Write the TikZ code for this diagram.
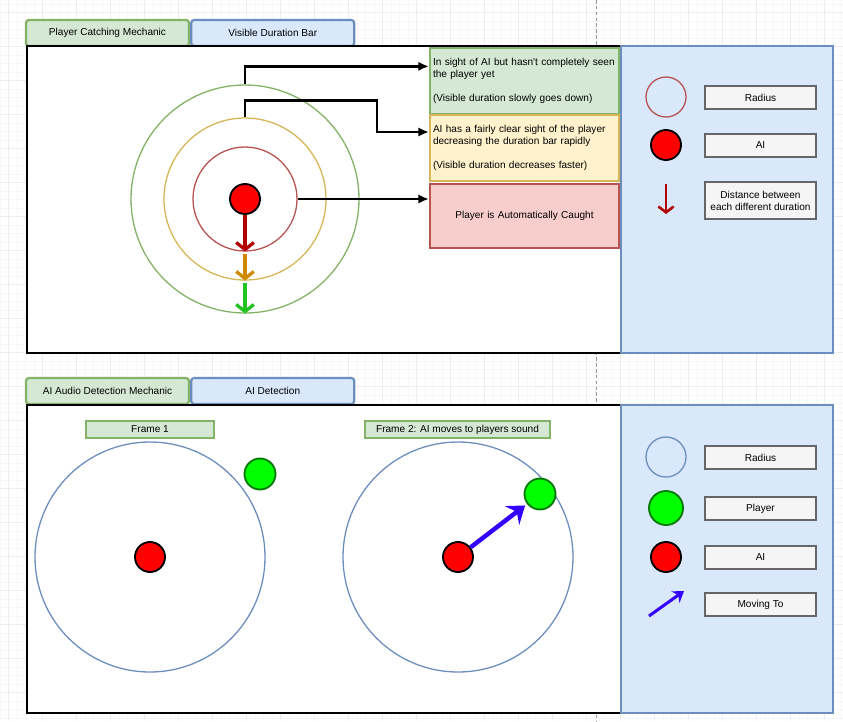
\documentclass[tikz,border=0pt]{standalone}
\usepackage{fontspec}
\setmainfont{Liberation Sans}
\usepackage{xcolor}
\usepackage{tikz}
\usetikzlibrary{arrows.meta,calc,positioning}

\definecolor{grnfill}{HTML}{D5E8D4}
\definecolor{grnline}{HTML}{82B366}
\definecolor{blufill}{HTML}{DAE8FC}
\definecolor{bluline}{HTML}{6C8EBF}
\definecolor{ylwfill}{HTML}{FFF2CC}
\definecolor{ylwline}{HTML}{D6B656}
\definecolor{redfill}{HTML}{F8CECC}
\definecolor{redline}{HTML}{B85450}
\definecolor{keyfill}{HTML}{F5F5F5}
\definecolor{keyline}{HTML}{666666}
\definecolor{aired}{HTML}{FF0000}
\definecolor{plgreen}{HTML}{00FF00}
\definecolor{pldark}{HTML}{007A00}
\definecolor{movblue}{HTML}{3300FF}
\definecolor{darkred}{HTML}{B20000}
\definecolor{orng}{HTML}{D08A00}
\definecolor{arrgreen}{HTML}{22C422}

\begin{document}
\begin{tikzpicture}[x=0.03cm, y=-0.03cm,
		font=\fontsize{8.6}{10.2}\selectfont,
		tab/.style={draw, rounded corners=2.5pt, line width=1.9pt, minimum width=163*0.03cm, minimum height=26*0.03cm, inner sep=0pt},
		greentab/.style={tab, draw=grnline, fill=grnfill},
		bluetab/.style={tab, draw=bluline, fill=blufill},
		stage/.style={draw, line width=1.9pt, text width=183*0.03cm, inner xsep=3*0.03cm, inner ysep=0pt, minimum height=66*0.03cm, align=left},
		ring/.style={circle, draw, line width=1.1pt, inner sep=0pt},
		aidot/.style={circle, draw=black, fill=aired, line width=1.6pt, minimum size=30*0.03cm, inner sep=0pt},
		playerdot/.style={circle, draw=pldark, fill=plgreen, line width=1.6pt, minimum size=31*0.03cm, inner sep=0pt},
		keybox/.style={draw=keyline, fill=keyfill, line width=2.2pt, minimum width=111*0.03cm, minimum height=23*0.03cm, inner sep=1pt, align=center},
		framebox/.style={draw=grnline, fill=grnfill, line width=1.1pt, minimum height=17*0.03cm, inner sep=0pt},
		conn/.style={line width=2pt, -{Latex[length=9pt, width=8pt]}},
		dist/.style={line width=2.8pt, -{Straight Barb[length=6pt, width=15pt]}},
		move/.style={movblue, line width=3.8pt, -{Stealth[length=14pt, width=20pt, inset=5pt]}},
		panel/.style={draw=bluline, fill=blufill, line width=2pt},
		sectionbox/.style={draw=black, fill=white, line width=2pt}
	]

	\def\W{843} \def\H{721}
	\useasboundingbox (0,0) rectangle (\W,\H);
	\fill[white] (0,0) rectangle (\W,\H);

	% background grid
	\foreach \gx in {0,8.5,...,843}
		\draw[black!3, line width=0.4pt] (\gx,0) -- (\gx,\H);
	\foreach \gy in {3.8,12.3,...,721}
		\draw[black!3, line width=0.4pt] (0,\gy) -- (\W,\gy);
	\foreach \gx in {8.3,42.3,...,843}
		\draw[black!7, line width=0.4pt] (\gx,0) -- (\gx,\H);
	\foreach \gy in {12.3,46.3,...,721}
		\draw[black!7, line width=0.4pt] (0,\gy) -- (\W,\gy);

	% page break
	\draw[black!40, line width=0.6pt, dash pattern=on 3pt off 2pt] (596.5,0) -- (596.5,\H);

	% ---------- Player catching mechanic ----------
	\node[greentab] (tabCatch) at (107.5,33) {Player Catching Mechanic};
	\node[bluetab, right=0pt of tabCatch] (tabBar) {Visible Duration Bar};

	\draw[sectionbox] (27,46) rectangle (621,353);
	\draw[panel] (621,46) rectangle (833,353);

	% sight rings round the AI
	\node[ring, draw=grnline, minimum size=228*0.03cm] (ringG) at (245,199) {};
	\node[ring, draw=ylwline, minimum size=162*0.03cm] (ringY) at (245,199) {};
	\node[ring, draw=redline, minimum size=104*0.03cm] (ringR) at (245,199) {};
	\node[aidot] (aiTop) at (245,199) {};

	\draw[dist, darkred] (aiTop.south) -- (ringR.south);
	\draw[dist, orng] ([yshift=-2pt]ringR.south) -- (ringY.south);
	\draw[dist, arrgreen] ([yshift=-2pt]ringY.south) -- (ringG.south);

	% duration stages
	\node[stage, draw=grnline, fill=grnfill] (stSeen) at (524.5,81)
		{In sight of AI but hasn\textquotesingle t completely seen\\the player yet\\[10.2pt](Visible duration slowly goes down)};
	\node[stage, draw=ylwline, fill=ylwfill] (stClear) at (524.5,148)
		{AI has a fairly clear sight of the player\\decreasing the duration bar rapidly\\[10.2pt](Visible duration decreases faster)};
	\node[stage, draw=redline, fill=redfill, align=center, minimum height=64*0.03cm] (stCaught) at (524.5,216)
		{Player is Automatically Caught};

	\draw[conn] (ringG.north) -- ++(0,-18) coordinate (bendA) -- (bendA -| stSeen.west);
	\draw[conn] (ringY.north) -- ++(0,-17) -| ($(stClear.west)+(-52,-16)$) -- ($(stClear.west)+(0,-16)$);
	\draw[conn] (ringR.east) -- (ringR.east -| stCaught.west);

	% key
	\node[ring, draw=redline, minimum size=40*0.03cm] (keyRing) at (666,97) {};
	\node[aidot] (keyAi) at (666,145) {};
	\coordinate (keyDistA) at (666,184);
	\coordinate (keyDistB) at (666,214);
	\draw[darkred, line width=2.2pt, -{Straight Barb[length=5pt, width=13pt]}] (keyDistA) -- (keyDistB);
	\node[keybox] (keyRadius) at (760.5,97.5) {Radius};
	\node[keybox] (keyAiTxt) at (760.5,145.5) {AI};
	\node[keybox, minimum height=37*0.03cm] (keyDist) at (760.5,200.5) {Distance between\\each different duration};

	% ---------- AI audio detection mechanic ----------
	\node[greentab] (tabAudio) at (107.5,391) {AI Audio Detection Mechanic};
	\node[bluetab, right=0pt of tabAudio] (tabDetect) {AI Detection};

	\draw[sectionbox] (27,405) rectangle (621,713);
	\draw[panel] (621,405) rectangle (833,713);

	\node[framebox, minimum width=128*0.03cm] (frameOne) at (150,429.5) {Frame 1};
	\node[framebox, minimum width=185*0.03cm] (frameTwo) at (457.5,429.5) {Frame 2: AI moves to players sound};

	% frame 1
	\node[ring, draw=bluline, minimum size=230*0.03cm] (hearOne) at (150,557) {};
	\node[aidot] (aiOne) at (150,557) {};
	\node[playerdot] (plOne) at (260,474) {};

	% frame 2
	\node[ring, draw=bluline, minimum size=230*0.03cm] (hearTwo) at (458,557) {};
	\node[aidot] (aiTwo) at (458,557) {};
	\node[playerdot] (plTwo) at (540,494) {};
	\draw[move, shorten >=2pt] (aiTwo) -- (plTwo);

	% key
	\node[ring, draw=bluline, minimum size=40*0.03cm] (keyHear) at (666,457) {};
	\node[playerdot, minimum size=34*0.03cm] (keyPl) at (666,508) {};
	\node[aidot] (keyAi2) at (666,557) {};
	\coordinate (keyMoveA) at (649,616);
	\coordinate (keyMoveB) at (684,591);
	\draw[movblue, line width=2.6pt, -{Stealth[length=9pt, width=12pt, inset=3pt]}] (keyMoveA) -- (keyMoveB);
	\node[keybox] (keyRadius2) at (760.5,457.5) {Radius};
	\node[keybox] (keyPlTxt) at (760.5,508.5) {Player};
	\node[keybox] (keyAiTxt2) at (760.5,557.5) {AI};
	\node[keybox] (keyMove) at (760.5,604.5) {Moving To};

\end{tikzpicture}
\end{document}
